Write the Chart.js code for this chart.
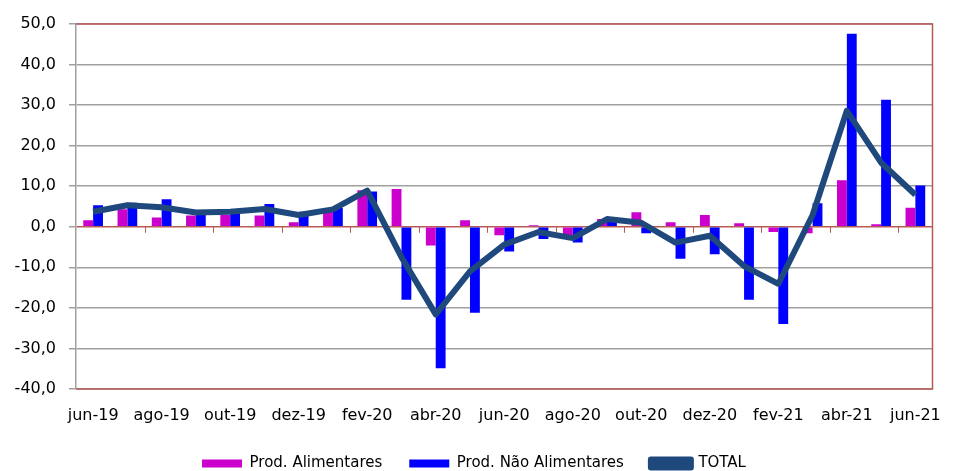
<!DOCTYPE html>
<html>
<head>
<meta charset="utf-8">
<script src="https://cdn.jsdelivr.net/npm/chart.js@4"></script>
<style>
  html, body { margin: 0; padding: 0; background: #fff; }
  #wrap { width: 958px; height: 471px; }
</style>
</head>
<body>
<div id="wrap"><canvas id="chart" width="958" height="471"></canvas></div>
<script>
// meses (jun-19 a jun-21)
const meses = ['jun-19', 'jul-19', 'ago-19', 'set-19', 'out-19', 'nov-19', 'dez-19', 'jan-20',
  'fev-20', 'mar-20', 'abr-20', 'mai-20', 'jun-20', 'jul-20', 'ago-20', 'set-20', 'out-20',
  'nov-20', 'dez-20', 'jan-21', 'fev-21', 'mar-21', 'abr-21', 'mai-21', 'jun-21'];

const prodAlimentares = [1.6, 4.3, 2.3, 2.8, 2.9, 2.8, 1.1, 3.7, 9.0, 9.3, -4.6, 1.6, -2.1,
  0.4, -2.0, 1.9, 3.6, 1.1, 2.9, 0.9, -1.3, -1.6, 11.5, 0.6, 4.7];

const prodNaoAlimentares = [5.3, 5.9, 6.8, 3.3, 3.5, 5.6, 3.7, 4.6, 8.7, -18.0, -34.9, -21.2,
  -6.1, -3.0, -3.9, 1.3, -1.6, -7.9, -6.8, -18.0, -24.0, 5.8, 47.6, 31.3, 10.2];

const total = [3.7, 5.3, 4.8, 3.5, 3.7, 4.4, 2.9, 4.3, 8.9, -7.5, -21.6, -11.0, -4.4, -1.3,
  -2.8, 1.9, 1.0, -3.9, -2.2, -9.7, -14.1, 2.9, 28.6, 15.8, 7.9];

const FONT = 'DejaVu Sans';
const RED = '#b85a56';
const GRID = '#a0a0a0';

// legenda mais baixa: fixa a altura da caixa
const legendHeight = {
  id: 'legendHeight',
  beforeLayout(chart) {
    const lg = chart.legend;
    if (lg && !lg._fixed) {
      const fit = lg.fit.bind(lg);
      lg.fit = function() { fit(); this.height = 42; };
      lg._fixed = true;
    }
  }
};

// moldura da área do gráfico e marcas no eixo zero (estilo Excel)
const excelFrame = {
  id: 'excelFrame',
  afterDatasetsDraw(chart) {
    const { ctx, chartArea: a, scales: { x, y } } = chart;
    ctx.save();
    ctx.strokeStyle = RED;
    ctx.lineWidth = 1.5;
    ctx.beginPath();
    ctx.moveTo(a.left, a.top);
    ctx.lineTo(a.right, a.top);
    ctx.lineTo(a.right, a.bottom);
    ctx.lineTo(a.left, a.bottom);
    ctx.stroke();
    const y0 = y.getPixelForValue(0);
    const step = (x.getPixelForValue(1) - x.getPixelForValue(0));
    ctx.lineWidth = 1;
    ctx.beginPath();
    for (let i = 2; i < meses.length; i += 2) {
      const px = Math.round(x.getPixelForValue(i) - step / 2) + 0.5;
      ctx.moveTo(px, y0);
      ctx.lineTo(px, y0 + 6);
    }
    ctx.stroke();
    ctx.restore();
  }
};

new Chart(document.getElementById('chart').getContext('2d'), {
  type: 'bar',
  data: {
    labels: meses,
    datasets: [
      {
        label: 'Prod. Alimentares',
        data: prodAlimentares,
        backgroundColor: '#cc00cc',
        barPercentage: 1,
        categoryPercentage: 0.575,
        order: 1
      },
      {
        label: 'Prod. Não Alimentares',
        data: prodNaoAlimentares,
        backgroundColor: '#0000ff',
        barPercentage: 1,
        categoryPercentage: 0.575,
        order: 1
      },
      {
        type: 'line',
        label: 'TOTAL',
        data: total,
        borderColor: '#1f497d',
        backgroundColor: '#1f497d',
        borderWidth: 6,
        borderJoinStyle: 'round',
        pointRadius: 0,
        tension: 0,
        order: 0
      }
    ]
  },
  options: {
    responsive: false,
    animation: false,
    layout: { padding: { left: 0, right: 10, top: 24, bottom: 0 } },
    plugins: {
      tooltip: { enabled: false },
      legend: {
        position: 'bottom',
        labels: {
          font: { family: FONT, size: 15 },
          color: '#000',
          boxWidth: 40,
          boxHeight: 8,
          padding: 27,
          sort: (a, b) => a.datasetIndex - b.datasetIndex
        }
      }
    },
    scales: {
      x: {
        grid: { display: false, drawTicks: false },
        border: { display: false },
        ticks: {
          autoSkip: false,
          maxRotation: 0,
          padding: 17,
          color: '#000',
          font: { family: FONT, size: 16 },
          callback: function(value, index) {
            return index % 2 === 0 ? meses[index] : '';
          }
        },
        afterFit: s => { s.height = 40; }
      },
      y: {
        min: -40,
        max: 50,
        ticks: {
          stepSize: 10,
          padding: 13,
          color: '#000',
          font: { family: FONT, size: 16 },
          callback: v => v.toFixed(1).replace('.', ',')
        },
        grid: {
          color: ctx => (ctx.tick && (ctx.tick.value === 0) ? RED : GRID),
          lineWidth: 1.5,
          tickLength: 7,
          tickColor: GRID
        },
        border: { color: GRID, width: 1.5 },
        afterFit: s => { s.width = 76; }
      }
    }
  },
  plugins: [legendHeight, excelFrame]
});
</script>
</body>
</html>
